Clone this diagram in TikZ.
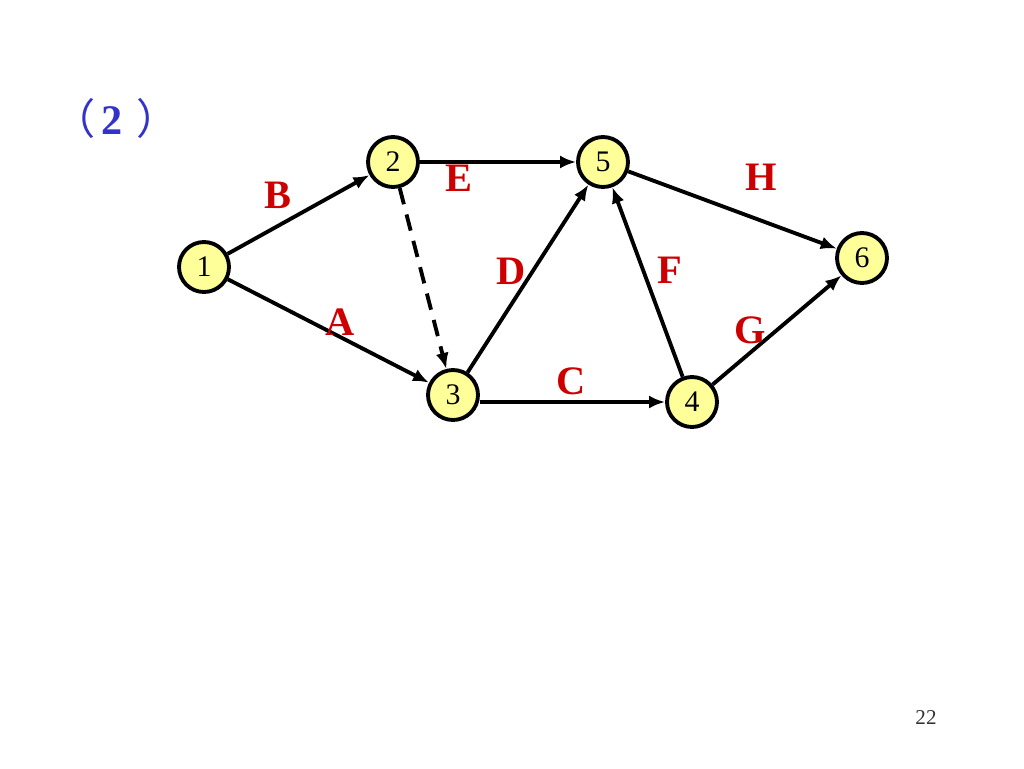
\documentclass[tikz,border=0pt]{standalone}
\usepackage{fontspec}
\setmainfont{Liberation Serif}
\newfontfamily\cjk{Noto Sans CJK SC}
\usetikzlibrary{arrows.meta}
\definecolor{nodeyellow}{RGB}{255,255,153}
\definecolor{lblred}{RGB}{204,0,0}
\definecolor{titleblue}{RGB}{51,51,204}
\begin{document}
\begin{tikzpicture}[
        x=0.02cm, y=-0.02cm,
        event/.style={circle, draw, line width=2.2pt, fill=nodeyellow, minimum size=1.0cm, inner sep=0pt, font=\fontsize{17}{17}\selectfont},
        act/.style={line width=2.2pt, -{Latex[length=3.2mm, width=2.6mm]}},
        dummy/.style={act, dash pattern=on 9.5pt off 6pt},
        lbl/.style={text=lblred, font=\fontsize{23}{23}\selectfont\bfseries},
      ]
        \useasboundingbox (0,0) rectangle (1024,768);

        % title and page number
        \node[text=titleblue, font=\fontsize{24}{24}\selectfont] (title) at (116,118) {{\cjk （}\hspace{3pt}\textbf{2}\hspace{8pt}{\cjk ）}};
        \node[text=black!80, font=\fontsize{12}{12}\selectfont] (page) at (926,718) {22};

        % events
        \node[event] (n1) at (204,267) {1};
        \node[event] (n2) at (393,162) {2};
        \node[event] (n3) at (453,395) {3};
        \node[event] (n4) at (692,402) {4};
        \node[event] (n5) at (603,162) {5};
        \node[event] (n6) at (862,258) {6};

        % activities
        \draw[act] (n1) -- (n2);
        \draw[act] (n1) -- (n3);
        \draw[act] (n2) -- (n5);
        \draw[dummy] (n2) -- (n3);
        \draw[act] (n3) -- (n5);
        \draw[act] (n3.east |- n4) -- (n4);
        \draw[act] (n4) -- (n5);
        \draw[act] (n4) -- (n6);
        \draw[act] (n5) -- (n6);

        % activity labels
        \node[lbl] (lB) at (278,195) {B};
        \node[lbl] (lA) at (340,322) {A};
        \node[lbl] (lE) at (459,178) {E};
        \node[lbl] (lD) at (511,271) {D};
        \node[lbl] (lC) at (571,381) {C};
        \node[lbl] (lF) at (670,270) {F};
        \node[lbl] (lG) at (750,330) {G};
        \node[lbl] (lH) at (761,177) {H};
      \end{tikzpicture}
\end{document}
